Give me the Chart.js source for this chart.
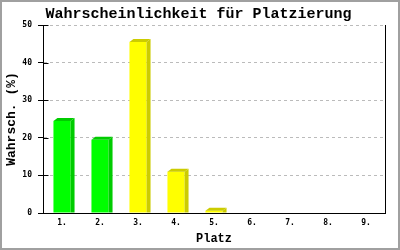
<!DOCTYPE html>
<html>
<head>
<meta charset="utf-8">
<script src="https://cdn.jsdelivr.net/npm/chart.js@4/dist/chart.umd.min.js"></script>
<style>
  body { margin: 0; background: #fff; }
  canvas { display: block; }
</style>
</head>
<body>
<canvas id="platz" width="400" height="250"></canvas>
<script>
const places = ["1.", "2.", "3.", "4.", "5.", "6.", "7.", "8.", "9."];
const probability = [24.5, 19.5, 45.5, 11, 0.6, 0, 0, 0, 0];
const yTicks = [0, 10, 20, 30, 40, 50];

const frontColors = ["#00ff00", "#00ff00", "#ffff00", "#ffff00", "#ffff00", "#ffff00", "#ffff00", "#ffff00", "#ffff00"];
const sideColors = ["#00cc00", "#00cc00", "#cccc00", "#cccc00", "#cccc00", "#cccc00", "#cccc00", "#cccc00", "#cccc00"];

const mono = "'Liberation Mono', 'DejaVu Sans Mono', monospace";
const smallMono = "'DejaVu Sans Mono', monospace";

// 3d side + top faces, inner tick marks and the frame
const bars3d = {
  id: "bars3d",
  afterDatasetsDraw(chart) {
    const ctx = chart.ctx;
    const meta = chart.getDatasetMeta(0);
    const d = 4, dy = 3;
    meta.data.forEach((bar, i) => {
      if (!probability[i]) return;
      const { x, y, base, width } = bar.getProps(["x", "y", "base", "width"], true);
      const l = x - width / 2, r = x + width / 2;
      ctx.save();
      ctx.fillStyle = sideColors[i];
      ctx.beginPath();
      ctx.moveTo(r, y);
      ctx.lineTo(r + d, y - dy);
      ctx.lineTo(r + d, base);
      ctx.lineTo(r, base);
      ctx.closePath();
      ctx.fill();
      ctx.beginPath();
      ctx.moveTo(l, y);
      ctx.lineTo(l + d, y - dy);
      ctx.lineTo(r + d, y - dy);
      ctx.lineTo(r, y);
      ctx.closePath();
      ctx.fill();
      ctx.restore();
    });
  },
  afterDraw(chart) {
    const ctx = chart.ctx;
    const a = chart.chartArea;
    const ys = chart.scales.y;
    ctx.save();
    ctx.strokeStyle = "#000";
    ctx.lineWidth = 1;
    const x0 = Math.round(a.left) + 0.5;
    yTicks.forEach(v => {
      const py = Math.round(ys.getPixelForValue(v)) + 0.5;
      ctx.beginPath();
      ctx.moveTo(x0, py);
      ctx.lineTo(x0 + 5, py);
      ctx.stroke();
    });
    ctx.strokeStyle = "#a0a0a0";
    ctx.lineWidth = 2;
    ctx.strokeRect(1, 1, 398, 248);
    ctx.restore();
  }
};

new Chart(document.getElementById("platz"), {
  type: "bar",
  data: {
    labels: places,
    datasets: [{
      data: probability,
      backgroundColor: frontColors,
      borderWidth: 0,
      categoryPercentage: 1,
      barPercentage: 0.45
    }]
  },
  options: {
    responsive: false,
    animation: false,
    layout: { padding: { left: 0, right: 3, top: 0, bottom: 0 } },
    plugins: {
      legend: { display: false },
      tooltip: { enabled: false },
      title: {
        display: true,
        text: "Wahrscheinlichkeit für Platzierung",
        color: "#000",
        font: { family: mono, size: 15, weight: "bold" },
        padding: { top: 5, bottom: 2 }
      }
    },
    scales: {
      x: {
        grid: { display: false, drawTicks: false, tickLength: 0 },
        border: { color: "#000", width: 1 },
        ticks: { color: "#000", font: { family: smallMono, size: 8, weight: "bold" }, padding: 5, maxRotation: 0 },
        title: {
          display: true,
          text: "Platz",
          color: "#000",
          font: { family: mono, size: 12, weight: "bold" },
          padding: { top: 4, bottom: 4 }
        },
        afterFit(scale) { scale.height = 37; }
      },
      y: {
        min: 0,
        max: 50,
        afterBuildTicks(scale) { scale.ticks = yTicks.map(v => ({ value: v })); },
        grid: {
          color: "#bbbbbb",
          tickColor: "#000",
          tickBorderDash: [],
          tickLength: 5
        },
        border: { color: "#000", width: 1, dash: [3, 3] },
        ticks: { color: "#000", font: { family: smallMono, size: 8, weight: "bold" }, padding: 6 },
        title: {
          display: true,
          text: "Wahrsch. (%)",
          color: "#000",
          font: { family: mono, size: 13, weight: "bold" },
          padding: { top: 4, bottom: 0 }
        },
        afterFit(scale) { scale.width = 43; }
      },
      y2: {
        position: "right",
        min: 0,
        max: 1,
        grid: { display: false, drawTicks: false },
        ticks: { display: false },
        border: { display: true, color: "#000", width: 1 },
        afterFit(scale) { scale.width = 12; }
      }
    }
  },
  plugins: [bars3d]
});
</script>
</body>
</html>
